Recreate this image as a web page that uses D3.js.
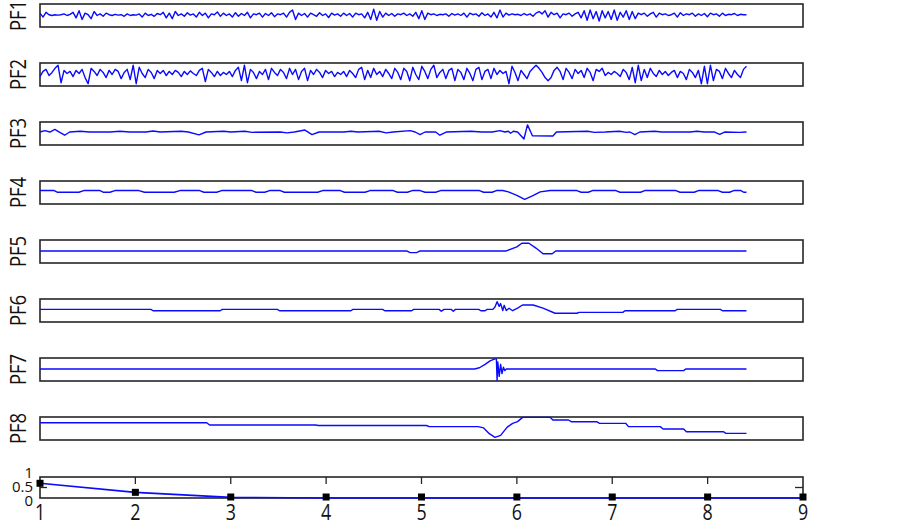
<!DOCTYPE html>
<html><head><meta charset="utf-8">
<script src="https://cdn.jsdelivr.net/npm/d3@7"></script>
<style>body{margin:0;background:#fff} svg{display:block}</style>
</head><body><svg id="c" width="903" height="529"></svg>
<script>
// ---------- data ----------
const panelLabels = ["PF1","PF2","PF3","PF4","PF5","PF6","PF7","PF8"];
const sampleSpan = 1000;      // samples shown in every PF trace
const pf1 = [
 0.3,-0.2,0.4,0.1,0.0,0.1,0.05,0.1,0.2,0.0,0.15,0.4,-0.3,0.6,-0.5,0.3,0.1,-0.4,0.5,0.0,
 0.2,-0.1,0.3,0.1,0.0,0.15,0.05,0.1,-0.1,0.2,0.0,0.1,0.05,0.2,-0.2,0.3,0.0,0.15,-0.1,0.25,
 0.1,0.4,-0.3,0.3,-0.4,0.5,0.0,0.2,-0.1,0.35,0.05,0.2,-0.2,0.4,0.0,0.3,-0.3,0.2,0.1,0.45,
 -0.1,0.3,0.0,0.2,-0.2,0.35,-0.1,0.25,0.0,0.4,-0.3,0.2,0.1,0.3,-0.2,0.25,0.0,0.35,-0.15,0.2,
 0.1,0.3,-0.2,0.4,0.7,-0.5,0.3,0.0,0.25,-0.2,0.3,0.1,-0.1,0.35,0.0,0.2,-0.25,0.3,0.05,0.2,
 -0.1,0.3,0.0,0.25,-0.2,0.3,0.1,0.2,-0.3,0.4,-0.5,0.8,-0.6,0.5,-0.2,0.3,0.0,0.25,-0.1,0.2,
 0.1,0.3,0.0,0.2,-0.1,0.4,-0.4,0.6,-0.5,0.3,0.1,0.2,0.0,0.15,0.1,0.2,-0.1,0.25,0.05,0.2,
 0.0,0.3,-0.2,0.3,0.1,0.2,-0.1,0.35,0.0,0.2,-0.2,0.4,-0.3,0.7,-0.2,0.3,0.05,0.2,0.1,0.15,
 0.0,0.25,0.05,0.2,-0.1,0.3,0.5,0.2,0.6,-0.2,0.4,0.1,0.3,-0.3,0.2,0.1,0.3,-0.1,0.2,0.4,
 -0.3,0.6,-0.6,0.7,-0.4,0.5,-0.7,0.6,-0.3,0.5,-0.5,0.7,-0.6,0.4,-0.2,0.6,-0.5,0.5,-0.4,0.3,
 0.1,0.3,-0.1,0.2,0.4,-0.2,0.3,0.1,0.2,0.0,0.1,0.3,-0.2,0.35,0.0,0.2,0.1,0.3,-0.1,0.2,
 0.0,0.25,-0.15,0.3,0.1,0.2,-0.1,0.3,0.0,0.15,0.1,0.25,0.0,0.15,0.1,0.1
];
const pf2 = [
 -0.2,0.3,0.5,-0.1,0.2,0.6,0.9,-0.8,0.4,0.1,0.3,-0.2,0.4,0.1,0.5,-0.3,-0.9,0.6,0.3,-0.1,
 0.5,0.2,-0.3,0.4,0.0,0.5,0.3,-0.4,0.2,0.5,-0.5,0.9,-0.9,0.7,0.1,-0.3,0.5,0.2,-0.4,0.4,
 0.1,0.4,-0.1,0.3,0.0,0.4,0.2,-0.2,0.3,0.0,0.35,0.1,-0.1,0.4,0.6,-0.7,0.5,0.2,-0.2,0.3,
 -0.1,0.2,0.0,0.3,-0.2,0.4,0.7,-0.6,0.9,-0.8,0.5,0.2,-0.4,0.3,0.0,0.5,-0.5,0.6,0.2,-0.1,
 0.5,0.2,-0.4,0.6,0.0,0.5,-0.5,0.3,0.6,-0.6,0.4,0.0,0.5,0.2,-0.3,0.4,0.1,0.3,-0.2,0.2,
 0.0,0.3,-0.2,0.4,0.1,-0.3,0.5,0.7,-0.5,0.4,-0.3,0.6,0.0,0.3,-0.2,0.5,0.1,-0.4,0.6,0.2,
 -0.5,0.6,0.3,-0.6,0.7,0.0,-0.5,0.8,0.3,-0.4,0.5,0.9,-0.3,0.2,0.5,-0.4,0.4,0.6,-0.6,0.5,
 0.2,-0.5,0.6,0.1,-0.6,0.5,0.7,-0.5,0.3,0.5,-0.4,0.6,0.0,0.4,0.1,0.3,-0.9,0.8,0.2,-0.6,
 0.4,0.0,-0.4,0.3,0.6,0.9,0.6,0.2,-0.3,-0.6,-0.3,0.4,0.7,0.3,-0.5,0.6,0.2,-0.4,0.5,0.1,
 0.4,-0.3,0.6,0.2,-0.6,0.5,0.3,0.6,-0.1,0.2,0.0,0.3,0.1,-0.2,0.5,0.2,-0.5,0.7,-0.8,0.9,
 -0.6,0.5,-0.3,0.6,0.1,-0.2,0.4,0.0,0.3,-0.1,0.2,0.4,-0.3,0.3,0.1,-0.5,0.5,0.2,-0.3,0.4,
 -0.9,0.8,-0.9,0.9,-0.6,0.5,0.3,-0.4,0.6,0.1,-0.3,0.4,0.0,-0.3,0.5,0.8
];
// [sample, value] pairs
const pf3 = [[0,0.13],[7,0.25],[14,0.13],[21,0.35],[28,0.1],[35,-0.15],[42,0.13],[57,0.2],[70,0.13],[99,0.13],[113,0.2],[127,0.13],[150,0.13],[160,0.22],[170,0.13],[200,0.2],[210,0.13],[225,-0.12],[235,0.13],[260,0.2],[270,0.13],[290,0.2],[300,0.1],[340,0.13],[350,0.05],[360,0.13],[375,0.3],[385,-0.1],[395,0.13],[430,0.13],[440,0.2],[450,0.13],[480,0.2],[490,0.05],[500,0.13],[524,0.25],[531,0.13],[538,-0.1],[545,0.13],[560,0.13],[566,-0.15],[575,0.13],[610,0.2],[625,0.13],[640,0.13],[651,0.25],[658,0.13],[663,0.2],[666,0.02],[670,0.2],[676,0.13],[685,-0.48],[690,0.75],[697,-0.2],[726,-0.22],[731,0.13],[775,0.2],[785,0.1],[800,0.13],[820,0.2],[830,0.1],[835,0.13],[842,-0.1],[849,0.13],[870,0.2],[880,0.13],[920,0.13],[930,0.2],[940,0.13],[955,0.13],[962,-0.08],[969,0.13],[990,0.1],[1000,0.13]];
const pf4 = [[0,0.17],[20,0.17],[25,0.02],[55,0.02],[62,0.17],[85,0.17],[90,0.02],[99,0.02],[106,0.17],[140,0.17],[148,0.02],[190,0.02],[198,0.17],[226,0.17],[232,0.02],[250,0.02],[257,0.17],[300,0.17],[306,0.02],[318,0.02],[325,0.17],[340,0.17],[346,0.02],[393,0.02],[400,0.17],[425,0.17],[431,0.02],[460,0.02],[467,0.17],[500,0.17],[506,0.02],[520,0.02],[527,0.17],[538,0.17],[545,0.02],[560,0.02],[567,0.17],[622,0.17],[628,0.02],[640,0.02],[646,0.17],[655,0.17],[663,0.05],[675,-0.25],[686,-0.6],[697,-0.3],[708,0.05],[722,0.17],[760,0.17],[766,0.02],[776,0.02],[782,0.17],[815,0.17],[821,0.02],[850,0.02],[856,0.17],[900,0.17],[906,0.02],[926,0.02],[932,0.17],[960,0.17],[966,0.02],[976,0.02],[982,0.17],[992,0.17],[996,0.02],[1000,0.02]];
const pf5 = [[0,0.05],[519,0.05],[524,-0.1],[533,-0.1],[538,0.05],[660,0.05],[675,0.4],[682,0.72],[692,0.72],[702,0.3],[712,-0.2],[725,-0.2],[730,0.05],[1000,0.05]];
const pf6 = [[0,0.1],[157,0.1],[160,-0.02],[255,-0.02],[258,0.1],[336,0.1],[339,-0.02],[440,-0.02],[443,0.1],[485,0.1],[488,-0.02],[526,-0.02],[529,0.1],[565,0.1],[568,-0.06],[572,0.1],[582,0.1],[585,-0.06],[588,0.1],[621,0.1],[624,-0.02],[630,-0.02],[633,0.1],[641,0.1],[644,0.3],[647,0.77],[650,0.35],[652,0.6],[655,0.0],[657,0.45],[660,0.0],[664,0.2],[669,-0.02],[676,0.2],[683,0.48],[698,0.48],[712,0.2],[729,-0.24],[760,-0.24],[763,-0.16],[825,-0.16],[828,-0.02],[899,-0.02],[902,0.1],[963,0.1],[966,-0.02],[1000,-0.02]];
const pf7 = [[0,0.04],[615,0.04],[622,0.15],[630,0.45],[637,0.75],[644,0.92],[646,0.92],[647,-0.95],[648,0.65],[650,-0.6],[652,0.45],[654,-0.35],[656,0.2],[658,-0.1],[660,0.04],[871,0.04],[874,-0.1],[911,-0.1],[914,0.04],[1000,0.04]];
const pf8 = [[0,0.5],[236,0.5],[240,0.3],[390,0.3],[394,0.26],[547,0.26],[551,0.16],[620,0.16],[628,0.05],[636,-0.45],[644,-0.77],[652,-0.6],[661,0.1],[669,0.45],[676,0.6],[683,0.97],[722,0.97],[726,0.74],[748,0.74],[752,0.59],[788,0.59],[792,0.45],[829,0.45],[833,0.16],[878,0.16],[882,-0.04],[911,-0.04],[915,-0.28],[967,-0.28],[971,-0.42],[1000,-0.42]];
// y extent of each PF panel
const panelExtent = [1.45, 1.12, 1, 1, 1, 1, 1, 1];

const levelX = [1,2,3,4,5,6,7,8,9];
const levelY = [0.7,0.27,0.03,0,0,0,0,0,0];
const xTickLabels = ["1","2","3","4","5","6","7","8","9"];
const yTickValues = [0,0.5,1];
const yTickLabels = ["0","0.5","1"];

// ---------- drawing ----------
const svg = d3.select("#c");
const L = 40, R = 803, panelH = 23, panelStep = 59, firstTop = 4;
const x = d3.scaleLinear().domain([0, 1080]).range([L, R]);
const blue = "#0a0aff";
const frame = "#262626";

function toPairs(arr){ return arr.map((v,i)=>[i*sampleSpan/(arr.length-1), v]); }
const series = [toPairs(pf1), toPairs(pf2), pf3, pf4, pf5, pf6, pf7, pf8];

series.forEach((data, i) => {
  const top = firstTop + i*panelStep;
  const e = panelExtent[i];
  const y = d3.scaleLinear().domain([-e,e]).range([top+panelH, top]);
  const g = svg.append("g");
  g.append("rect").attr("x", L).attr("y", top).attr("width", R-L).attr("height", panelH)
    .attr("fill","none").attr("stroke",frame).attr("stroke-width",1.6);
  g.append("path").datum(data)
    .attr("d", d3.line().x(d=>x(d[0])).y(d=>y(d[1])))
    .attr("fill","none").attr("stroke",blue).attr("stroke-width",1.4).attr("stroke-linejoin","round");
  g.append("text")
    .attr("transform", `translate(26,${top+panelH/2}) rotate(-90) scale(0.88,1)`)
    .attr("text-anchor","middle")
    .attr("font-family","Open Sans").attr("font-size",21).attr("fill","#111")
    .text(panelLabels[i]);
});

// bottom panel
const bTop = 477, bBot = 498;
const bx = d3.scaleLinear().domain([1,9]).range([L,R]);
const by = d3.scaleLinear().domain([0,1]).range([bBot,bTop]);
const bg = svg.append("g");
bg.append("rect").attr("x",L).attr("y",bTop).attr("width",R-L).attr("height",bBot-bTop)
  .attr("fill","none").attr("stroke",frame).attr("stroke-width",1.6);
// ticks
bg.selectAll(".xt").data(levelX.slice(1,-1)).enter().append("line")
  .attr("x1",d=>bx(d)).attr("x2",d=>bx(d)).attr("y1",bTop).attr("y2",bTop+7)
  .attr("stroke",frame).attr("stroke-width",1.3);
bg.append("line").attr("x1",L).attr("x2",L+7).attr("y1",by(0.5)).attr("y2",by(0.5)).attr("stroke",frame).attr("stroke-width",1.3);
bg.append("line").attr("x1",R).attr("x2",R-8).attr("y1",by(0.5)).attr("y2",by(0.5)).attr("stroke",frame).attr("stroke-width",1.3);
// line + markers
bg.append("path").datum(levelX.map((v,i)=>[v,levelY[i]]))
  .attr("d", d3.line().x(d=>bx(d[0])).y(d=>by(d[1])))
  .attr("fill","none").attr("stroke",blue).attr("stroke-width",1.6);
bg.selectAll(".mk").data(levelX.map((v,i)=>[v,levelY[i]])).enter().append("rect")
  .attr("x",d=>bx(d[0])-3.5).attr("y",d=>Math.min(by(d[1]),bBot-1)-3.5)
  .attr("width",7).attr("height",7).attr("fill","#000");
// tick labels
bg.selectAll(".xl").data(levelX).enter().append("text")
  .attr("transform", d=>`translate(${bx(d)},520) scale(0.85,1)`)
  .attr("text-anchor","middle").attr("font-family","Open Sans").attr("font-size",21).attr("fill","#111")
  .text((d,i)=>xTickLabels[i]);
const yLabelBase = [505.5, 491.5, 477.5];
bg.selectAll(".yl").data(yTickValues).enter().append("text")
  .attr("x",33).attr("y",(d,i)=>yLabelBase[i])
  .attr("text-anchor","end").attr("font-family","Open Sans").attr("font-size",15).attr("fill","#111")
  .text((d,i)=>yTickLabels[i]);
</script></body></html>
